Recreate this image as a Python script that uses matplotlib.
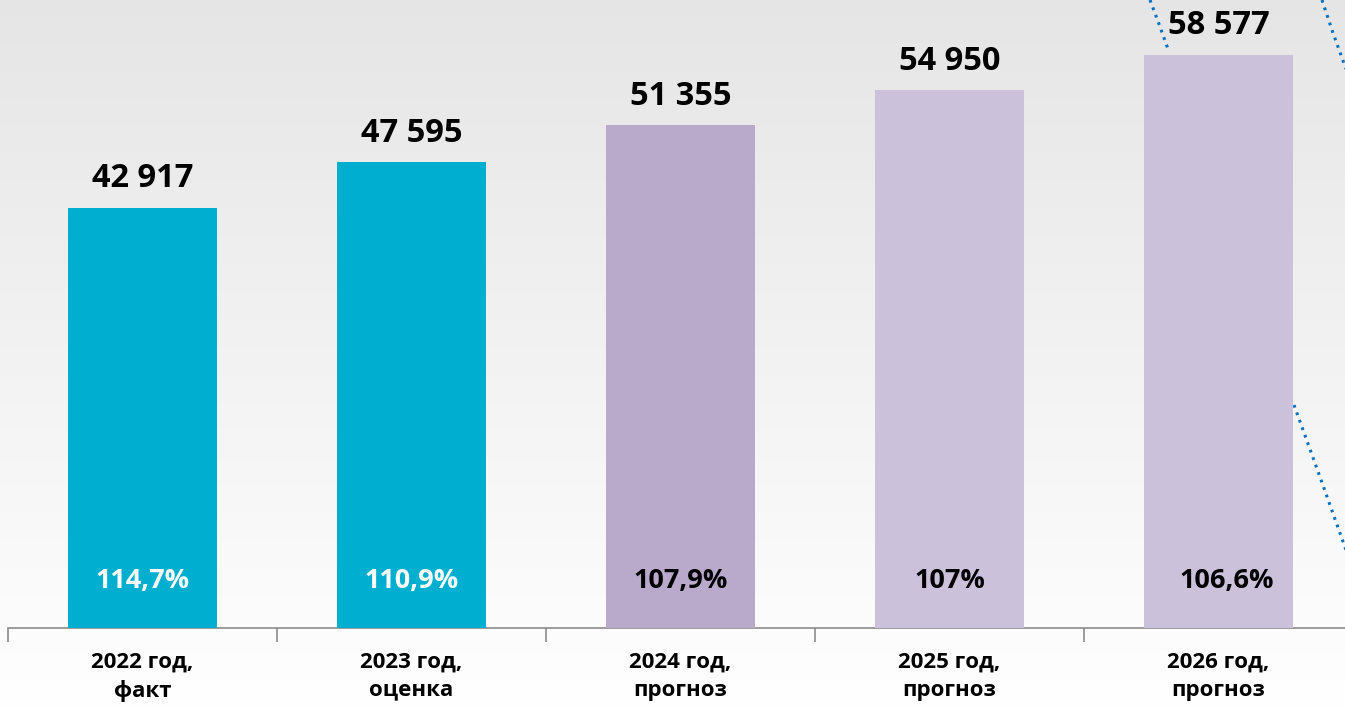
import numpy as np
import matplotlib
matplotlib.use("Agg")
import matplotlib.pyplot as plt

# Среднемесячная заработная плата, руб.
categories = ["2022 год,\nфакт", "2023 год,\nоценка", "2024 год,\nпрогноз",
              "2025 год,\nпрогноз", "2026 год,\nпрогноз"]
values = [42917, 47595, 51355, 54950, 58577]
value_labels = ["42 917", "47 595", "51 355", "54 950", "58 577"]
growth_labels = ["114,7%", "110,9%", "107,9%", "107%", "106,6%"]

bar_colors = ["#00AFCF", "#00AFCF", "#B9AACC", "#CBC1DA", "#CBC1DA"]
growth_colors = ["white", "white", "black", "black", "black"]

plt.rcParams['font.family'] = ['Open Sans', 'DejaVu Sans']

W, H = 1345, 708
fig = plt.figure(figsize=(W / 100, H / 100), dpi=100)

# background gradient (light gray at top -> white at bottom)
bg = fig.add_axes([0, 0, 1, 1], zorder=0)
grad = np.linspace(0.90, 1.0, 256).reshape(-1, 1)
bg.imshow(np.dstack([grad, grad, grad]), aspect='auto', extent=[0, 1, 0, 1],
          origin='upper')
bg.axis('off')

# decorative dotted arcs on the right (figure pixel coords)
deco = fig.add_axes([0, 0, 1, 1], zorder=1)
deco.set_xlim(0, W)
deco.set_ylim(H, 0)
deco.axis('off')
deco.patch.set_alpha(0)
for xs, ys in [([1150, 1159, 1168], [0, 24, 49]),
               ([1322, 1333, 1346], [0, 33, 69]),
               ([1294, 1320, 1346], [405, 477, 550])]:
    deco.plot(xs, ys, color="#0070C0", lw=2.2, ls=(0, (0.9, 1.7)),
              dash_capstyle='butt')

ax = fig.add_axes([8 / W, (H - 628) / H, 1.0, 628 / H], zorder=2)
ax.patch.set_alpha(0)
x = np.arange(len(values))
bars = ax.bar(x, values, width=0.554, color=bar_colors, zorder=3)
ax.set_xlim(-0.5, 4.5)
ax.set_ylim(0, 64170)

for i, (v, lab) in enumerate(zip(values, value_labels)):
    ax.annotate(lab, (i, v), xytext=(0, 9), textcoords='offset points',
                ha='center', va='bottom', fontsize=23.5, fontweight='bold',
                color='black')

for i, (lab, c) in enumerate(zip(growth_labels, growth_colors)):
    ax.text(i + (0.03 if i == 4 else 0), 4850, lab, ha='center', va='center',
            fontsize=19.5, fontweight='bold', color=c, zorder=4)

for s in ['top', 'right', 'left']:
    ax.spines[s].set_visible(False)
ax.spines['bottom'].set_color('#8C8C8C')
ax.spines['bottom'].set_linewidth(1.2)
ax.set_yticks([])

ax.set_xticks(x)
ax.set_xticklabels(categories, fontsize=16, fontweight='bold', linespacing=1.45)
ax.tick_params(axis='x', length=0, pad=17)
ax.set_xticks(np.arange(-0.5, 5.0, 1.0), minor=True)
ax.tick_params(axis='x', which='minor', length=10, width=1.2, color='#8C8C8C')

fig.savefig("out.png", dpi=100)
